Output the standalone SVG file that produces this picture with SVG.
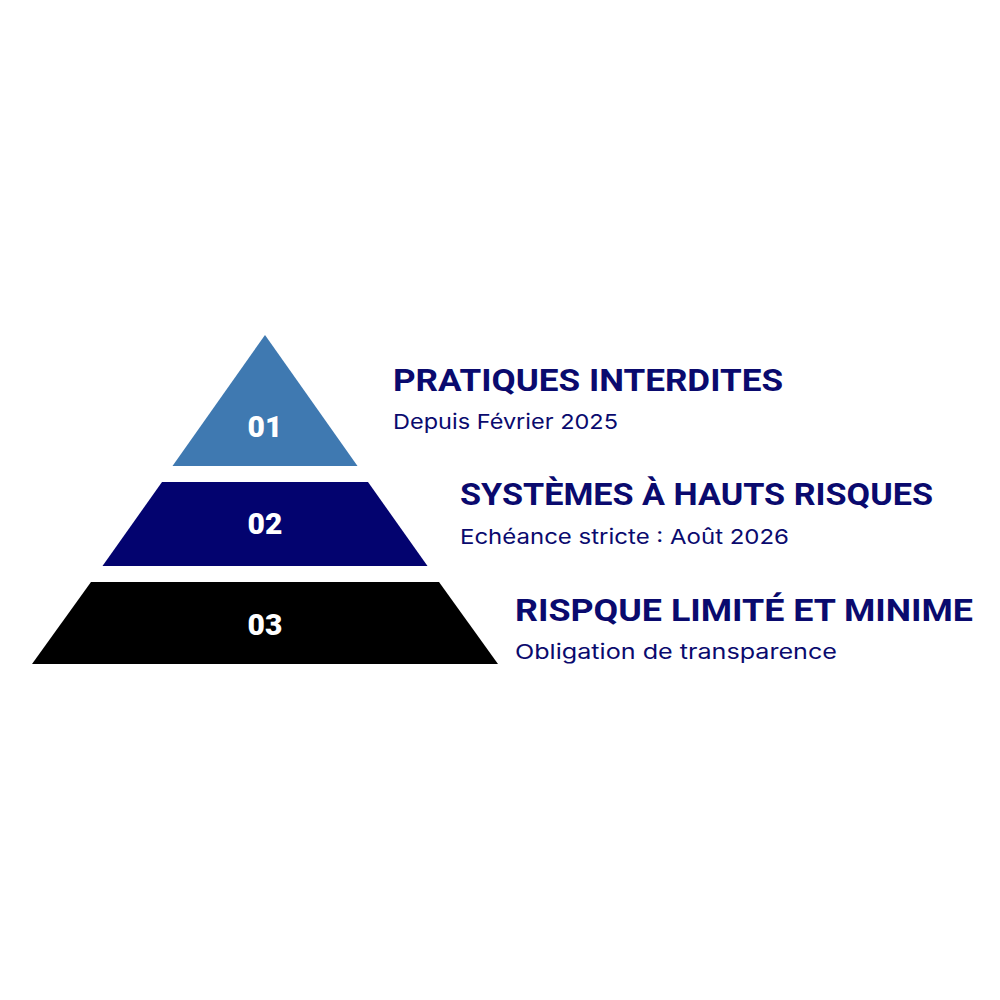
<svg xmlns="http://www.w3.org/2000/svg" width="1000" height="1000" viewBox="0 0 1000 1000">
<style>
.num{font-family:Roboto,"Liberation Sans",sans-serif;font-weight:900;font-size:30px;fill:#ffffff;text-anchor:middle}
.title{font-family:Roboto,"Liberation Sans",sans-serif;font-weight:700;font-size:31.5px;fill:#0a0a6e}
.sub{font-family:Inter,"Liberation Sans",sans-serif;font-weight:400;font-size:20.5px;fill:#0a0a6e}
</style>
<rect width="1000" height="1000" fill="#ffffff"/>
<g id="level1">
<polygon points="265,335 357.5,466 172.5,466" fill="#3f79b1"/>
<text class="num" x="265" y="437">01</text>
</g>
<g id="level2">
<polygon points="162,482 368,482 427.5,566 102.5,566" fill="#03036f"/>
<text class="num" x="265" y="534">02</text>
</g>
<g id="level3">
<polygon points="91,582 439,582 498,664 32,664" fill="#000000"/>
<text class="num" x="265" y="635">03</text>
</g>
<g id="label1">
<text class="title" x="393" y="391" textLength="390" lengthAdjust="spacingAndGlyphs">PRATIQUES INTERDITES</text>
<text class="sub" x="393" y="428.5" textLength="225" lengthAdjust="spacingAndGlyphs">Depuis Février 2025</text>
</g>
<g id="label2">
<text class="title" x="460" y="505" textLength="473" lengthAdjust="spacingAndGlyphs">SYSTÈMES À HAUTS RISQUES</text>
<text class="sub" x="460" y="543.5" textLength="329" lengthAdjust="spacingAndGlyphs">Echéance stricte : Août 2026</text>
</g>
<g id="label3">
<text class="title" x="515" y="621" textLength="458" lengthAdjust="spacingAndGlyphs">RISPQUE LIMITÉ ET MINIME</text>
<text class="sub" x="515" y="658.5" textLength="322" lengthAdjust="spacingAndGlyphs">Obligation de transparence</text>
</g>
<g id="connectors"></g>
</svg>
